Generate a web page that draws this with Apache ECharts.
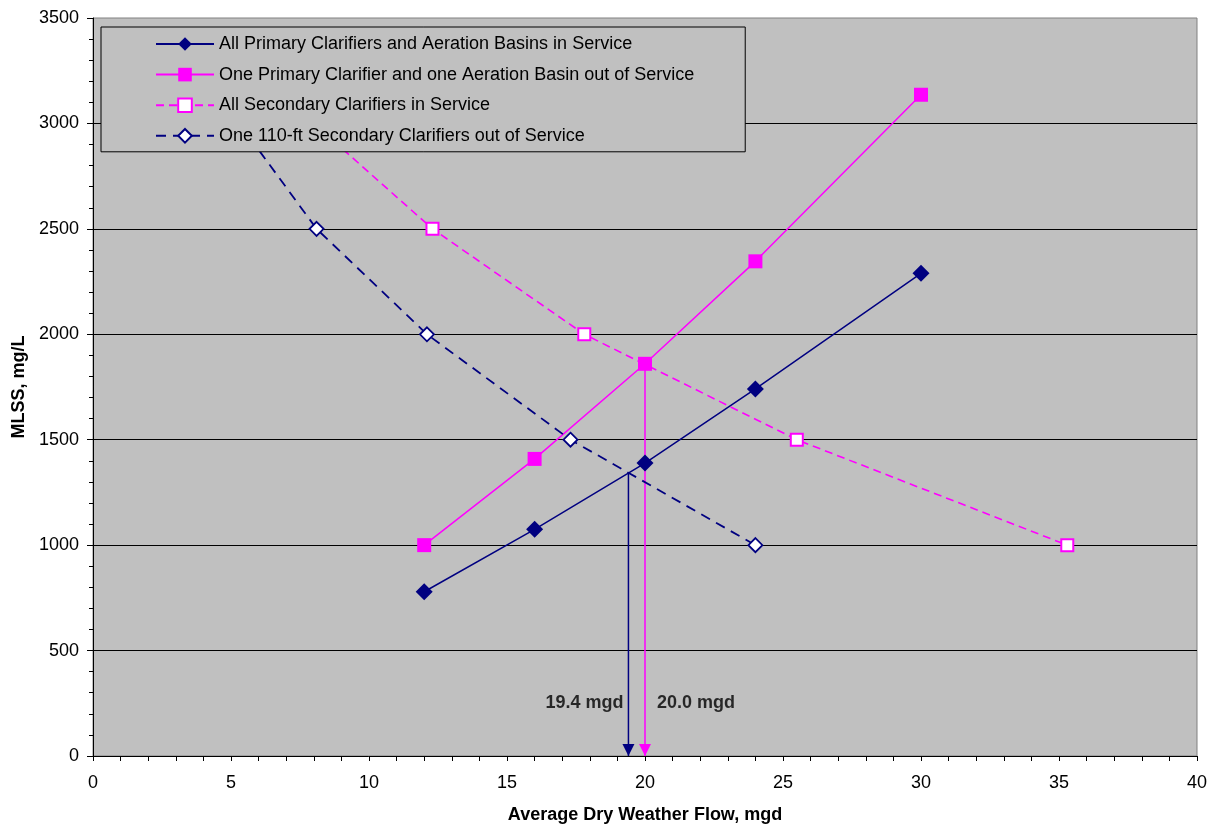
<!DOCTYPE html>
<html>
<head>
<meta charset="utf-8">
<title>MLSS vs Average Dry Weather Flow</title>
<script src="https://cdn.jsdelivr.net/npm/echarts@6/dist/echarts.min.js"></script>
<style>
  html, body { margin: 0; padding: 0; background: #ffffff; }
  #chart { width: 1211px; height: 825px; }
</style>
</head>
<body>
<div id="chart"></div>
<script>
// Series names
const nameAllInService = 'All Primary Clarifiers and Aeration Basins in Service';
const nameOnePrimaryOut = 'One Primary Clarifier and one Aeration Basin out of Service';
const nameAllSecondary = 'All Secondary Clarifiers in Service';
const nameOneSecondaryOut = 'One 110-ft Secondary Clarifiers out of Service';

// [flow (mgd), MLSS (mg/L)]
const allInService = [[12, 779], [16, 1075], [20, 1389], [24, 1741], [30, 2289]];
const onePrimaryOut = [[12, 1000], [16, 1409], [20, 1860], [24, 2346], [30, 3136]];
const allSecondary = [[8.0, 3000], [12.3, 2500], [17.8, 2000], [25.5, 1500], [35.3, 1000]];
const oneSecondaryOut = [[5.3, 3000], [8.1, 2500], [12.1, 2000], [17.3, 1500], [24.0, 1000]];

// Design flows: [flow, MLSS at crossing]
const flowNavy = [19.4, 1345];
const flowMagenta = [20.0, 1860];
const flowLabelLevel = 250;

// Axis ranges
const xRange = { min: 0, max: 40, step: 5 };
const yRange = { min: 0, max: 3500, step: 500 };

const NAVY = '#000080';
const MAGENTA = '#FF00FF';
const FONT = "'Liberation Sans', Arial, sans-serif";

const arrowPath = 'path://M0,0 L10,0 L5,10 Z';

function arrowSeries(pt, color) {
  return {
    type: 'line',
    silent: true,
    z: 3,
    lineStyle: { color: color, width: 1.5 },
    itemStyle: { color: color },
    data: [
      { value: [pt[0], pt[1]], symbol: 'none' },
      { value: [pt[0], 0], symbol: arrowPath, symbolSize: [12, 12], symbolOffset: [0, '-50%'] }
    ]
  };
}

function labelSeries(pt, side, dist) {
  return {
    type: 'scatter',
    silent: true,
    symbolSize: 0,
    data: [[pt[0], flowLabelLevel]],
    label: {
      show: true,
      position: side,
      distance: dist,
      formatter: pt[0].toFixed(1) + ' mgd',
      color: '#000',
      fontFamily: FONT,
      fontWeight: 'bold',
      fontSize: 18
    }
  };
}

const chart = echarts.init(document.getElementById('chart'), null, { renderer: 'canvas' });

chart.setOption({
  animation: false,
  backgroundColor: '#ffffff',
  textStyle: { fontFamily: FONT, color: '#000' },
  grid: {
    left: 93, right: 14, top: 18, bottom: 69,
    outerBoundsMode: 'none',
    containLabel: false,
    show: true,
    backgroundColor: '#C0C0C0',
    borderColor: '#808080',
    borderWidth: 1
  },
  legend: {
    data: [nameAllInService, nameOnePrimaryOut, nameAllSecondary, nameOneSecondaryOut],
    orient: 'vertical',
    left: 101,
    top: 27,
    z: 20,
    padding: [8, 51, 7, 54],
    itemGap: 12.6,
    itemWidth: 58,
    itemHeight: 17,
    backgroundColor: '#C0C0C0',
    borderColor: '#000000',
    borderWidth: 1,
    selectedMode: false,
    textStyle: { fontFamily: FONT, fontSize: 18, color: '#000' }
  },
  xAxis: {
    type: 'value',
    min: xRange.min, max: xRange.max, interval: xRange.step,
    name: 'Average Dry Weather Flow, mgd',
    nameLocation: 'middle',
    nameGap: 50,
    nameTextStyle: { fontFamily: FONT, fontWeight: 'bold', fontSize: 18, color: '#000' },
    axisLine: { show: true, onZero: false, lineStyle: { color: '#000', width: 1 } },
    axisTick: { show: true, length: 5, lineStyle: { color: '#000' } },
    minorTick: { show: true, splitNumber: 5, length: 5, lineStyle: { color: '#000' } },
    axisLabel: { fontFamily: FONT, fontSize: 18, color: '#000', margin: 18, formatter: v => String(v) },
    splitLine: { show: false }
  },
  yAxis: {
    type: 'value',
    min: yRange.min, max: yRange.max, interval: yRange.step,
    name: 'MLSS, mg/L',
    nameLocation: 'middle',
    nameRotate: 90,
    nameGap: 63,
    nameTextStyle: { fontFamily: FONT, fontWeight: 'bold', fontSize: 18, color: '#000' },
    axisLine: { show: true, onZero: false, lineStyle: { color: '#000', width: 1 } },
    axisTick: { show: true, length: 6, lineStyle: { color: '#000' } },
    minorTick: { show: true, splitNumber: 5, length: 4, lineStyle: { color: '#000' } },
    axisLabel: { fontFamily: FONT, fontSize: 18, color: '#000', margin: 14, formatter: v => String(v) },
    splitLine: { show: true, showMinLine: false, showMaxLine: false, lineStyle: { color: '#000', width: 1 } }
  },
  series: [
    {
      name: nameAllInService,
      type: 'line',
      z: 4,
      data: allInService,
      symbol: 'diamond',
      symbolSize: 17,
      lineStyle: { color: NAVY, width: 1.5 },
      itemStyle: { color: NAVY }
    },
    {
      name: nameOnePrimaryOut,
      type: 'line',
      z: 4,
      data: onePrimaryOut,
      symbol: 'rect',
      symbolSize: 14,
      lineStyle: { color: MAGENTA, width: 1.5 },
      itemStyle: { color: MAGENTA }
    },
    {
      name: nameAllSecondary,
      type: 'line',
      z: 4,
      data: allSecondary,
      symbol: 'rect',
      symbolSize: 12,
      lineStyle: { color: MAGENTA, width: 1.6, type: [8, 5] },
      itemStyle: { color: '#ffffff', borderColor: MAGENTA, borderWidth: 2 }
    },
    {
      name: nameOneSecondaryOut,
      type: 'line',
      z: 4,
      data: oneSecondaryOut,
      symbol: 'diamond',
      symbolSize: 14,
      lineStyle: { color: NAVY, width: 1.8, type: [10, 7] },
      itemStyle: { color: '#ffffff', borderColor: NAVY, borderWidth: 1.8 }
    },
    arrowSeries(flowNavy, NAVY),
    arrowSeries(flowMagenta, MAGENTA),
    labelSeries(flowNavy, 'left', 5),
    labelSeries(flowMagenta, 'right', 12)
  ]
});
</script>
</body>
</html>
